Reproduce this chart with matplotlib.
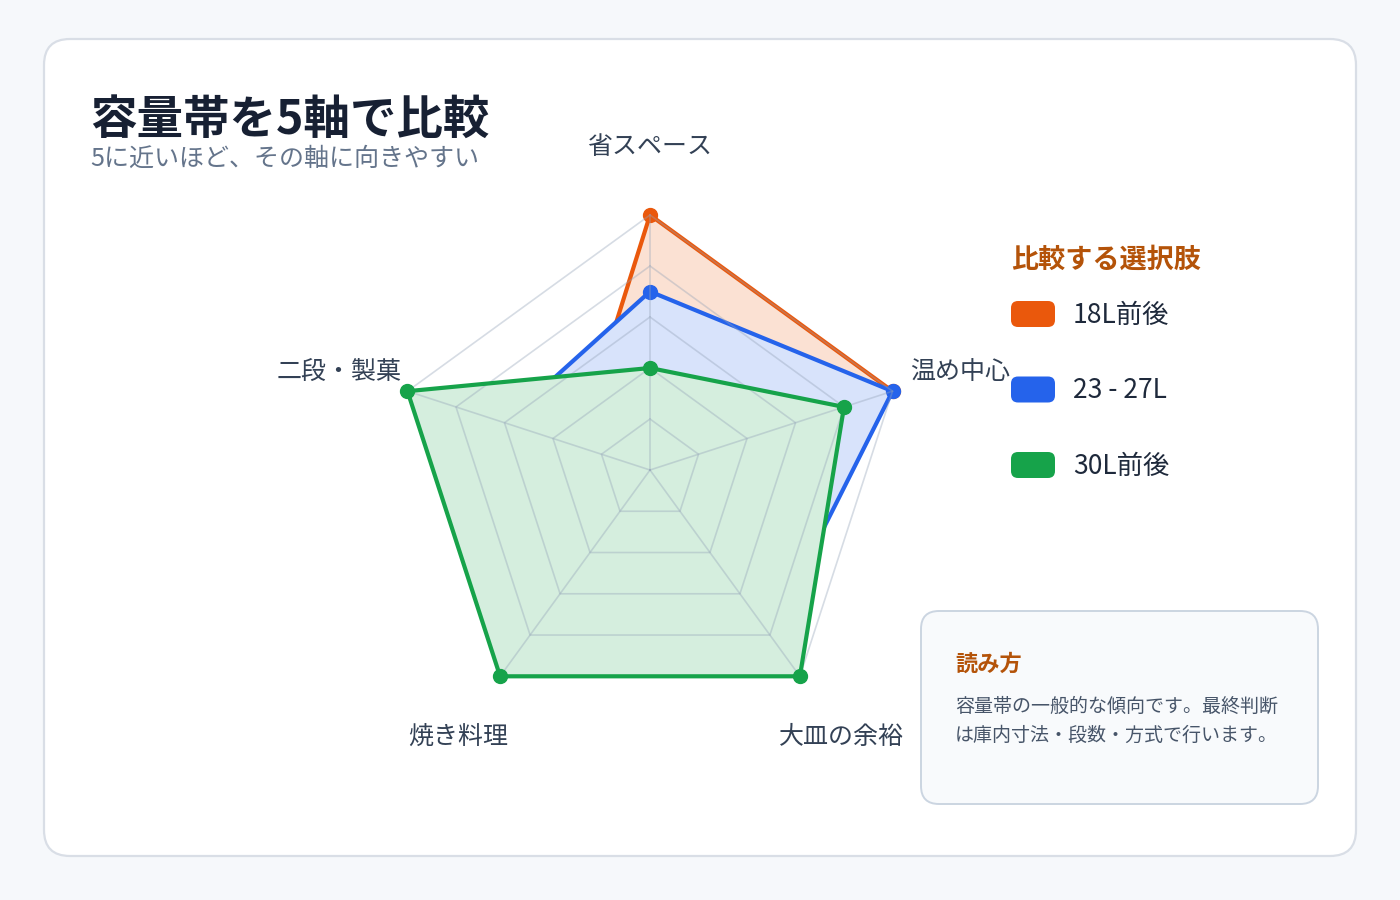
import numpy as np
import matplotlib
matplotlib.use("Agg")
import matplotlib.pyplot as plt
from matplotlib.patches import FancyBboxPatch
from matplotlib.transforms import offset_copy

plt.rcParams['font.family'] = ['Noto Sans CJK JP', 'DejaVu Sans']

# ---- data ----
axes_labels = ["省スペース", "温め中心", "大皿の余裕", "焼き料理", "二段・製菓"]
series_names = ["18L前後", "23 - 27L", "30L前後"]
vals_18 = [5, 5, 2, 2, 1.5]
vals_23 = [3.5, 5, 4, 4, 3]
vals_30 = [2, 4, 5, 5, 5]
series_values = [vals_18, vals_23, vals_30]
series_colors = ["#ea580c", "#2563eb", "#16a34a"]
fill_alpha = 0.18
r_max = 5
title = "容量帯を5軸で比較"
subtitle = "5に近いほど、その軸に向きやすい"
legend_title = "比較する選択肢"
note_title = "読み方"
note_lines = ["容量帯の一般的な傾向です。最終判断", "は庫内寸法・段数・方式で行います。"]

W, H = 1400, 900
fig = plt.figure(figsize=(W / 100, H / 100), dpi=100)
fig.patch.set_facecolor("#f6f8fb")

# background / overlay axes in pixel coordinates
bg = fig.add_axes([0, 0, 1, 1], zorder=0)
bg.set_xlim(0, W)
bg.set_ylim(H, 0)
bg.axis("off")

card = FancyBboxPatch((44, 39), 1312, 817, boxstyle="round,pad=0,rounding_size=26",
                      facecolor="white", edgecolor="#d9dee6", linewidth=1.6)
bg.add_patch(card)

bg.text(90, 120, title, fontsize=33.5, fontweight="bold", color="#172033",
        ha="left", va="center")
bg.text(90, 159, subtitle, fontsize=18, color="#64748b", ha="left", va="center")

# legend
bg.text(1011, 260, legend_title, fontsize=19.5, fontweight="bold", color="#b45309",
        ha="left", va="center")
for i, (name, col) in enumerate(zip(series_names, series_colors)):
    yc = 314 + i * 75.5
    bg.add_patch(FancyBboxPatch((1011, yc - 13), 44, 26, boxstyle="round,pad=0,rounding_size=7",
                                facecolor=col, edgecolor="none"))
    bg.text(1073, yc + 1.5, name, fontsize=19, color="#1e293b", ha="left", va="center")

# note box
bg.add_patch(FancyBboxPatch((921, 611), 397, 193, boxstyle="round,pad=0,rounding_size=18",
                            facecolor="#f8fafc", edgecolor="#cbd5e1", linewidth=1.4))
bg.text(955, 664, note_title, fontsize=16, fontweight="bold", color="#b45309",
        ha="left", va="center")
for j, line in enumerate(note_lines):
    bg.text(955, 706 + j * 29, line, fontsize=13.7, color="#475569", ha="left", va="center")

# ---- radar ----
cx, cy, R = 650, 470, 255
ax = fig.add_axes([(cx - R) / W, (H - cy - R) / H, 2 * R / W, 2 * R / H],
                  projection="polar", zorder=1)
ax.set_theta_zero_location("N")
ax.set_theta_direction(-1)
ax.set_ylim(0, r_max)
ax.set_axis_off()
ax.patch.set_visible(False)

n = len(axes_labels)
theta = np.arange(n) * 2 * np.pi / n
theta_c = np.concatenate([theta, theta[:1]])


def blend(hexcol, a):
    c = np.array(matplotlib.colors.to_rgb(hexcol))
    return tuple(1 - a * (1 - c))


z = 1
for vals, col in zip(series_values, series_colors):
    v = np.array(vals + vals[:1], dtype=float)
    ax.fill(theta_c, v, color=blend(col, fill_alpha), zorder=z, clip_on=False, linewidth=0)
    ax.plot(theta_c, v, color=col, linewidth=3.0, zorder=z + 1, clip_on=False,
            solid_joinstyle="miter")
    ax.plot(theta, vals, "o", color=col, markersize=10, zorder=z + 1.5, clip_on=False)
    z += 2

# grid (pentagon rings + spokes), drawn semi-transparent above fills
grid_z = z - 1.7
for k in range(1, r_max + 1):
    ax.plot(theta_c, [k] * (n + 1), color="#94a3b8", alpha=0.38, linewidth=1.2,
            zorder=grid_z, clip_on=False)
for t in theta:
    ax.plot([t, t], [0, r_max], color="#94a3b8", alpha=0.38, linewidth=1.2,
            zorder=grid_z, clip_on=False)

lab_tr = offset_copy(ax.transData, fig=fig, x=0, y=-3, units="dots")
for t, lab in zip(theta, axes_labels):
    ax.text(t, 6.4, lab, fontsize=18, color="#334155", ha="center", va="center",
            transform=lab_tr)

fig.savefig("out.png", dpi=100, facecolor=fig.get_facecolor())
